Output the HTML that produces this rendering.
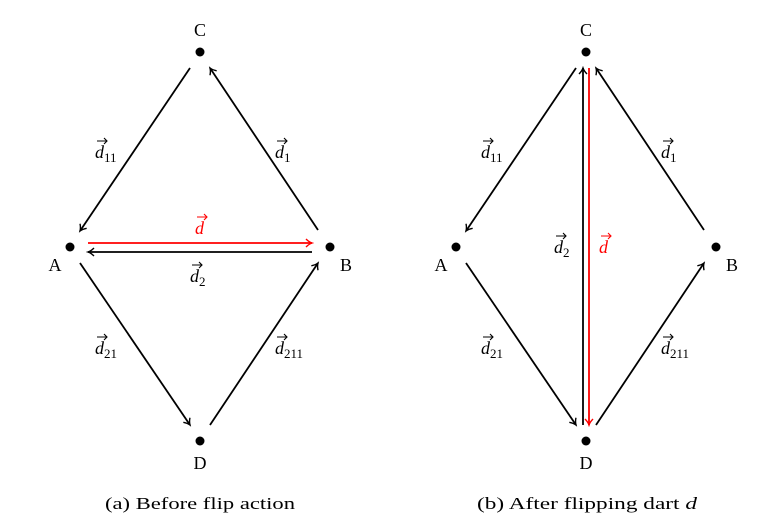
<!DOCTYPE html>
<html><head><style>body{margin:0;background:#fff}svg{display:block}text{font-family:"Liberation Serif",serif;font-size:18px}</style></head><body>
<svg width="765" height="529" viewBox="0 0 765 529" xmlns="http://www.w3.org/2000/svg">
<defs>
<marker id="a" markerWidth="10" markerHeight="10" refX="8" refY="5" orient="auto" markerUnits="userSpaceOnUse"><path d="M2,1 Q5,4 8,5 Q5,6 2,9" fill="none" stroke="#000" stroke-width="1.4"/></marker>
<marker id="r" markerWidth="10" markerHeight="10" refX="8" refY="5" orient="auto" markerUnits="userSpaceOnUse"><path d="M2,1 Q5,4 8,5 Q5,6 2,9" fill="none" stroke="#f00" stroke-width="1.4"/></marker>
</defs>
<g stroke="#000" stroke-width="1.8" fill="none">
<line x1="190" y1="68" x2="80" y2="231" marker-end="url(#a)"/>
<line x1="318" y1="230" x2="210" y2="68" marker-end="url(#a)"/>
<line x1="80" y1="263" x2="190" y2="425" marker-end="url(#a)"/>
<line x1="210" y1="425" x2="318" y2="263" marker-end="url(#a)"/>
<line x1="312" y1="252" x2="88" y2="252" marker-end="url(#a)"/>
<line x1="88" y1="243" x2="312" y2="243" stroke="#f00" marker-end="url(#r)"/>
<line x1="576" y1="68" x2="466" y2="231" marker-end="url(#a)"/>
<line x1="704" y1="230" x2="596" y2="68" marker-end="url(#a)"/>
<line x1="466" y1="263" x2="576" y2="425" marker-end="url(#a)"/>
<line x1="596" y1="425" x2="704" y2="263" marker-end="url(#a)"/>
<line x1="583" y1="425" x2="583" y2="68" marker-end="url(#a)"/>
<line x1="589" y1="68" x2="589" y2="425" stroke="#f00" marker-end="url(#r)"/>
</g>
<g fill="#000">
<circle cx="200" cy="52" r="4.5"/><circle cx="70" cy="247" r="4.5"/><circle cx="330" cy="247" r="4.5"/><circle cx="200" cy="441" r="4.5"/>
<circle cx="586" cy="52" r="4.5"/><circle cx="456" cy="247" r="4.5"/><circle cx="716" cy="247" r="4.5"/><circle cx="586" cy="441" r="4.5"/>
</g>
<g text-anchor="middle">
<text x="200" y="36">C</text><text x="55" y="271">A</text><text x="346" y="271">B</text><text x="200" y="469">D</text>
<text x="586" y="36">C</text><text x="441" y="271">A</text><text x="732" y="271">B</text><text x="586" y="469">D</text>
</g>
<g font-style="italic">
<text x="95" y="158">d<tspan font-size="13" dy="4" font-style="normal">11</tspan></text>
<text x="275" y="158">d<tspan font-size="13" dy="4" font-style="normal">1</tspan></text>
<text x="95" y="354">d<tspan font-size="13" dy="4" font-style="normal">21</tspan></text>
<text x="275" y="354">d<tspan font-size="13" dy="4" font-style="normal">211</tspan></text>
<text x="195" y="234" fill="#f00">d</text>
<text x="190" y="282">d<tspan font-size="13" dy="4" font-style="normal">2</tspan></text>
<text x="481" y="158">d<tspan font-size="13" dy="4" font-style="normal">11</tspan></text>
<text x="661" y="158">d<tspan font-size="13" dy="4" font-style="normal">1</tspan></text>
<text x="481" y="354">d<tspan font-size="13" dy="4" font-style="normal">21</tspan></text>
<text x="661" y="354">d<tspan font-size="13" dy="4" font-style="normal">211</tspan></text>
<text x="554" y="253">d<tspan font-size="13" dy="4" font-style="normal">2</tspan></text>
<text x="599" y="253" fill="#f00">d</text>
</g>
<g stroke-width="1.1" fill="none">
<g stroke="#000">
<path d="M97,141h10M104,138l3,3l-3,3"/><path d="M277,141h10M284,138l3,3l-3,3"/><path d="M97,337h10M104,334l3,3l-3,3"/><path d="M277,337h10M284,334l3,3l-3,3"/><path d="M192,265h10M199,262l3,3l-3,3"/>
<path d="M483,141h10M490,138l3,3l-3,3"/><path d="M663,141h10M670,138l3,3l-3,3"/><path d="M483,337h10M490,334l3,3l-3,3"/><path d="M663,337h10M670,334l3,3l-3,3"/><path d="M556,236h10M563,233l3,3l-3,3"/>
</g>
<g stroke="#f00"><path d="M197,217h10M204,214l3,3l-3,3"/><path d="M601,236h10M608,233l3,3l-3,3"/></g>
</g>
<text x="105" y="509" style="font-size:17px" textLength="190" lengthAdjust="spacingAndGlyphs">(a) Before flip action</text>
<text x="477" y="509" style="font-size:17px" textLength="220" lengthAdjust="spacingAndGlyphs">(b) After flipping dart <tspan font-style="italic">d</tspan></text>
</svg>
</body></html>
